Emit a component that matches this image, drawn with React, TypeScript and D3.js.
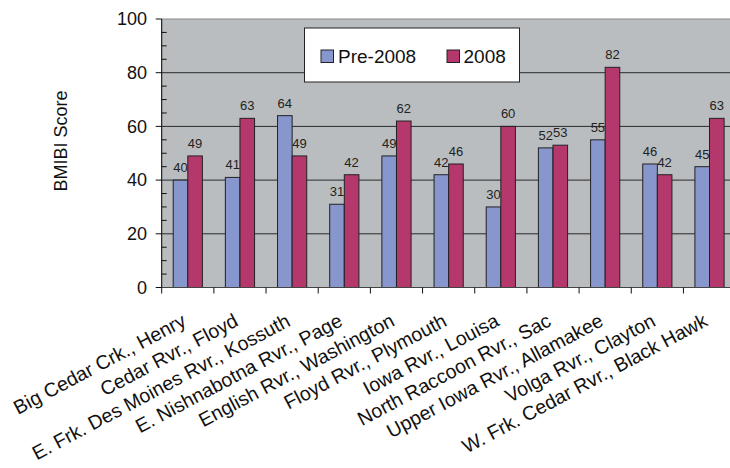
import React from "react";
import * as d3 from "d3";

const categories = [
  "Big Cedar Crk., Henry",
  "Cedar Rvr., Floyd",
  "E. Frk. Des Moines Rvr., Kossuth",
  "E. Nishnabotna Rvr., Page",
  "English Rvr., Washington",
  "Floyd Rvr., Plymouth",
  "Iowa Rvr., Louisa",
  "North Raccoon Rvr., Sac",
  "Upper Iowa Rvr., Allamakee",
  "Volga Rvr., Clayton",
  "W. Frk. Cedar Rvr., Black Hawk",
];
const pre2008 = [40, 41, 64, 31, 49, 42, 30, 52, 55, 46, 45];
const y2008 = [49, 63, 49, 42, 62, 46, 60, 53, 82, 42, 63];
const seriesNames = ["Pre-2008", "2008"];
const yTicks = [0, 20, 40, 60, 80, 100];

const W = 730;
const H = 468;
const FONT = "'Liberation Sans', Arial, Helvetica, sans-serif";
const colors = ["#8796CC", "#B5386C"];

export default function App() {
  const left = 161.7;
  const right = 735.6;
  const top = 19;
  const bottom = 287.5;

  const x0 = d3.scaleBand<string>().domain(categories).range([left, right]).padding(0);
  const x1 = d3
    .scaleBand<string>()
    .domain(seriesNames)
    .range([0, x0.bandwidth()])
    .paddingInner(0)
    .paddingOuter(0.787);
  const y = d3.scaleLinear().domain([0, 100]).range([bottom, top]);
  const minorTicks = d3.range(0, 101, 5).filter((v) => v % 20 !== 0);
  const series = [pre2008, y2008];

  return (
    <div style={{ position: "fixed", left: 0, top: 0 }}>
      <svg width={W} height={H} style={{ display: "block", background: "#fff" }} fontFamily={FONT}>
        {/* plot area */}
        <rect x={left} y={top} width={right - left} height={bottom - top} fill="#B9BDBF" stroke="#8a8a8a" strokeWidth={1} />
        {/* gridlines */}
        {yTicks
          .filter((t) => t > 0 && t < 100)
          .map((t) => (
            <line key={"g" + t} x1={left} x2={right} y1={y(t)} y2={y(t)} stroke="#2a2a2a" strokeWidth={1} />
          ))}
        {/* legend */}
        <rect x={304.5} y={28} width={215} height={54} fill="#fff" stroke="#222" strokeWidth={1} />
        <rect x={321} y={50} width={12.5} height={12.5} fill={colors[0]} stroke="#222" strokeWidth={1} />
        <text x={338} y={62.5} fontSize={19} fill="#111">{seriesNames[0]}</text>
        <rect x={447} y={50} width={12.5} height={12.5} fill={colors[1]} stroke="#222" strokeWidth={1} />
        <text x={463.5} y={62.5} fontSize={19} fill="#111">{seriesNames[1]}</text>
        {/* bars */}
        {categories.map((c, i) => (
          <g key={c}>
            {series.map((s, k) => {
              const bx = (x0(c) as number) + (x1(seriesNames[k]) as number);
              const bw = x1.bandwidth();
              return (
                <g key={k}>
                  <rect
                    x={bx}
                    y={y(s[i])}
                    width={bw}
                    height={bottom - y(s[i])}
                    fill={colors[k]}
                    stroke="#222"
                    strokeWidth={1}
                  />
                  <text x={bx + bw / 2} y={y(s[i]) - 8} fontSize={13} textAnchor="middle" fill="#222">
                    {s[i]}
                  </text>
                </g>
              );
            })}
          </g>
        ))}
        {/* axes */}
        <line x1={left} x2={right} y1={bottom} y2={bottom} stroke="#444" strokeWidth={1} />
        <line x1={left} x2={left} y1={top} y2={bottom} stroke="#111" strokeWidth={1} />
        {yTicks.map((t) => (
          <g key={"yt" + t}>
            <line x1={left - 6} x2={left} y1={y(t)} y2={y(t)} stroke="#111" strokeWidth={1} />
            <text x={147} y={y(t)} dy="0.35em" fontSize={18} textAnchor="end" fill="#111">
              {t}
            </text>
          </g>
        ))}
        {minorTicks.map((t) => (
          <line key={"m" + t} x1={left} x2={left + 5} y1={y(t)} y2={y(t)} stroke="#111" strokeWidth={1} />
        ))}
        {categories.map((c, i) => (
          <line
            key={"xt" + i}
            x1={x0(c) as number}
            x2={x0(c) as number}
            y1={bottom}
            y2={bottom + 6}
            stroke="#111"
            strokeWidth={1}
          />
        ))}
        {categories.map((c) => {
          const cx = (x0(c) as number) + x0.bandwidth() / 2 - 0.5;
          const ty = 325;
          return (
            <text
              key={"xl" + c}
              x={cx}
              y={ty}
              fontSize={19.6}
              textAnchor="end"
              fill="#111"
              transform={`rotate(-28 ${cx} ${ty})`}
            >
              {c}
            </text>
          );
        })}
        <text
          x={67}
          y={141}
          fontSize={18}
          textAnchor="middle"
          fill="#111"
          transform="rotate(-90 67 141)"
        >
          BMIBI Score
        </text>
      </svg>
    </div>
  );
}
